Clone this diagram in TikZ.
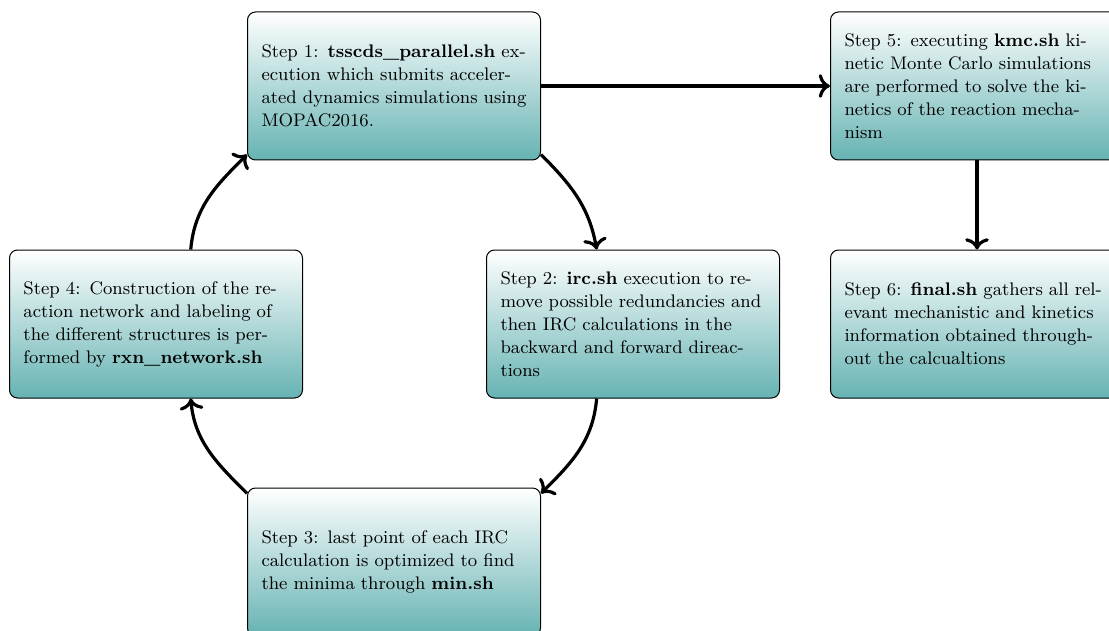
\documentclass[tikz,border=0pt]{standalone}
\usepackage{fontspec}
\usetikzlibrary{arrows.meta}
\begin{document}
\begin{tikzpicture}[x=0.5pt,y=-0.5pt,
  stepbox/.style={rectangle, rounded corners=4pt, draw=black, line width=0.5pt,
    top color=white, bottom color=teal!60,
    text width=132.5pt, inner xsep=7pt, inner ysep=3pt,
    minimum height=74pt, align=left,
    font=\fontsize{9.1}{11.5}\selectfont},
  flow/.style={-{To[scale=1.1]}, line width=1.6pt}]
\useasboundingbox (0,0) rectangle (1109,631);
\clip (0,0) rectangle (1109,631);

\node[stepbox] (s1) at (394,86) {Step 1: \textbf{tsscds\_parallel.sh} ex-\\
  ecution which submits acceler-\\ ated dynamics simulations using\\ MOPAC2016.};
\node[stepbox] (s5) at (977,86) {Step 5: executing \textbf{kmc.sh} ki-\\
  netic Monte Carlo simulations\\ are performed to solve the ki-\\
  netics of the reaction mecha-\\ nism};
\node[stepbox] (s4) at (156,324) {Step 4: Construction of the re-\\
  action network and labeling of\\ the different structures is per-\\
  formed by \textbf{rxn\_network.sh}};
\node[stepbox] (s2) at (633,324) {Step 2: \textbf{irc.sh} execution to re-\\
  move possible redundancies and\\ then IRC calculations in the\\
  backward and forward direac-\\ tions};
\node[stepbox] (s6) at (977,324) {Step 6: \textbf{final.sh} gathers all rel-\\
  evant mechanistic and kinetics\\ information obtained through-\\
  out the calcualtions};
\node[stepbox] (s3) at (394,562) {Step 3: last point of each IRC\\
  calculation is optimized to find\\ the minima through \textbf{min.sh}};

% main cycle
\draw[flow] (s1.-25) to[out=-45, in=100] (s2.116);
\draw[flow] (s2.-116) to[out=-95, in=45] (s3.25);
\draw[flow] (s3.155) to[out=135, in=-85] (s4.-65);
\draw[flow] (s4.65) to[out=85, in=-135] (s1.-155);
% kinetics branch
\draw[flow] (s1.east) -- (s5.west);
\draw[flow] (s5.south) -- (s6.north);
\end{tikzpicture}
\end{document}
